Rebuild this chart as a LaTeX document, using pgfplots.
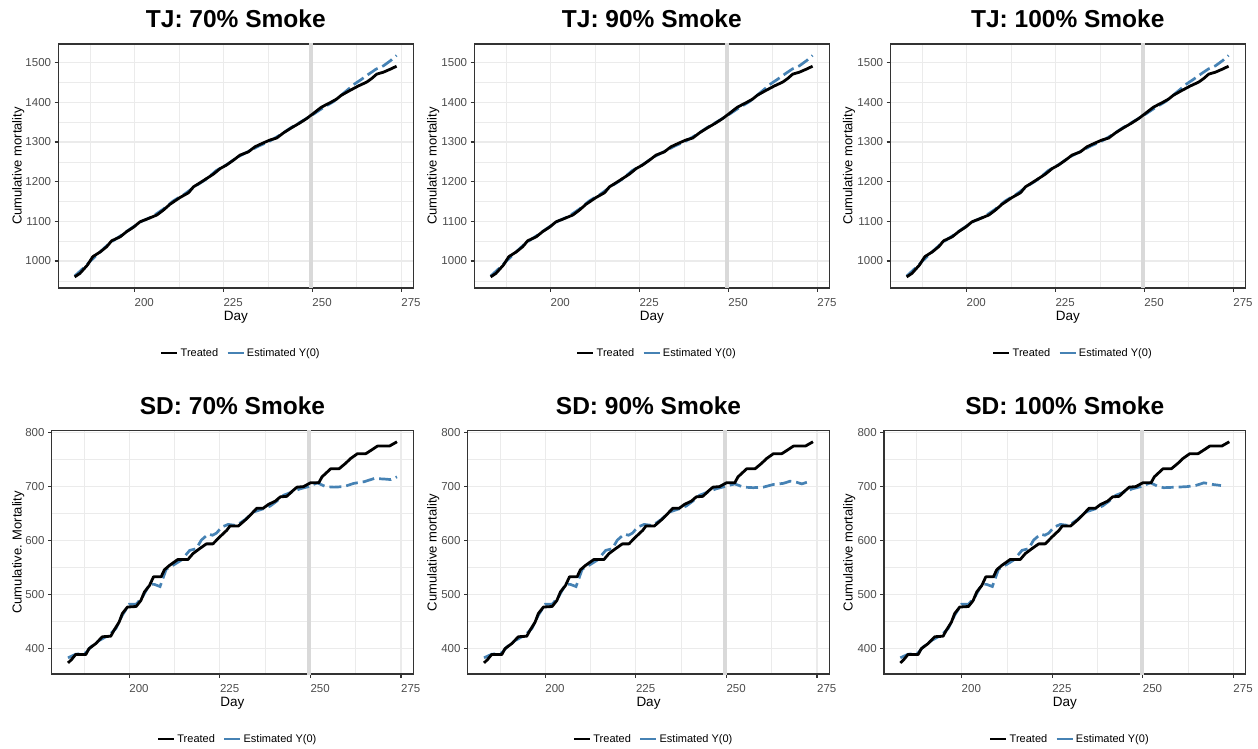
\documentclass[border=0pt]{standalone}
\usepackage{fontspec}
\setmainfont{Liberation Sans}
\usepackage{pgfplots}
\pgfplotsset{compat=1.18}
\definecolor{tickc}{HTML}{4D4D4D}
\definecolor{border}{HTML}{333333}
\definecolor{gridc}{HTML}{EBEBEB}
\definecolor{steel}{HTML}{4682B4}
\definecolor{vline}{HTML}{D9D9D9}
\pgfplotsset{
 gg/.style={
  scale only axis,
  axis line style={border, line width=1.1pt},
  tick style={border, line width=1.1pt},
  tick align=outside,
  major tick length=3.7pt,
  minor tick length=0pt,
  tick pos=left,
  grid=both,
  major grid style={gridc, line width=1.1pt},
  minor grid style={gridc, line width=0.6pt},
  xmin=178.6, xmax=278.4,
  xtick={200,225,250,275},
  minor xtick={187.5,212.5,237.5,262.5},
  ticklabel style={font=\fontsize{11.5}{13}\selectfont, text=tickc},
  xticklabel style={anchor=north west, inner xsep=0pt, yshift=-3pt},
  /pgf/number format/assume math mode=true,
  /pgf/number format/set thousands separator={},
  scaled ticks=false,
  xlabel={Day},
  every axis x label/.style={at={(axis description cs:0.5,0)}, anchor=center, yshift=-29.5pt, font=\fontsize{13.5}{15}\selectfont},
  every axis y label/.style={at={(axis description cs:0,0.5)}, anchor=center, rotate=90, font=\fontsize{13}{15}\selectfont},
  every axis title/.style={at={(axis description cs:0.5,1)}, anchor=center, yshift=25.3pt, font=\fontsize{24.5}{27}\selectfont\bfseries},
  legend columns=2,
  legend image code/.code={\draw[#1, solid] (0pt,0pt) -- (16pt,0pt);},
  legend style={at={(axis description cs:0.5,0)}, anchor=center, xshift=5pt, yshift=-65pt, draw=none, fill=none, font=\fontsize{11}{13}\selectfont, /tikz/every even column/.append style={column sep=6pt}},
 },
 tj/.style={gg, width=355pt, height=244pt, ymin=932, ymax=1547,
  ytick={1000,1100,1200,1300,1400,1500}, minor ytick={950,1050,1150,1250,1350,1450}},
 sd/.style={gg, width=361.6pt, height=243.3pt, ymin=353, ymax=803.5,
  ytick={400,500,600,700,800}, minor ytick={450,550,650,750}},
 treated/.style={black, line width=2.8pt, line join=round},
 est/.style={steel, line width=2.7pt, dash pattern=on 12pt off 5pt},
}
\newcommand{\leg}{\addlegendimage{treated}\addlegendentry{Treated}\addlegendimage{est}\addlegendentry{Estimated Y(0)}}
\newcommand{\tjtreated}{\addplot[treated, forget plot] coordinates {(183.2,960) (184.7,969) (186.8,990) (188.3,1011) (190.4,1023) (192.2,1036) (193.6,1051) (196,1061) (197.8,1074) (199.7,1085) (201.6,1099) (203.9,1107) (206.3,1116) (208.1,1128) (210,1143) (212.8,1160) (215.2,1172) (216.6,1187) (218.4,1197) (220.3,1208) (222.2,1219) (224.1,1233) (225.9,1242) (227.8,1254) (229.7,1267) (232,1275) (233.9,1288) (235.8,1296) (238.1,1305) (240,1310) (241.9,1323) (244.2,1336) (246.5,1348) (248.4,1359) (250.3,1372) (252.6,1388) (255,1399) (256.8,1408) (258.2,1418) (260.6,1430) (262.9,1441) (265.3,1451) (266.7,1460) (268.1,1471) (270,1476) (271.8,1483) (273.7,1491)};}
\newcommand{\tjest}{\addplot[est, forget plot] coordinates {(183.2,962) (186,985) (188,1003) (190,1020) (193,1045) (196,1063) (199,1082) (202,1100) (205,1112) (208,1130) (211,1152) (214,1168) (217,1188) (220,1205) (223,1228) (226,1243) (229,1262) (232,1276) (235,1290) (238,1302) (241,1318) (244,1336) (247,1352) (250,1368) (253,1386) (256,1402) (258,1417) (260,1432) (262,1447) (264,1459) (266,1472) (268,1484) (270,1492) (272,1505) (273.7,1518)};}
\newcommand{\sdtreated}{\addplot[treated, forget plot] coordinates {(183.1,373.5) (184.1,380) (185.2,389) (188,389) (188.9,400) (190.7,409) (192.6,422) (194.9,423) (195.8,434) (197.2,449) (198.1,465) (199.5,477) (201.9,478) (203.2,489) (204.2,505) (205.6,517) (206.7,533) (208.8,533) (209.7,546) (211.1,554) (213.4,565) (216.2,565) (217.6,576) (219.4,585) (221.3,594) (223.1,594) (225,607) (226.9,619) (227.8,627) (230.1,627) (232,638) (233.8,650) (235.2,660) (237,660) (238.4,667) (240.3,673) (241.7,681) (243.5,682) (244.9,691) (246.3,699) (248.1,700) (250,707) (252.3,707) (253.2,718) (255.6,733) (257.9,733) (259.7,743) (261.1,752) (263,761) (265.3,761) (266.7,767) (268.5,775) (271.8,775) (273.9,783)};}
\newcommand{\sdpre}{(183.1,383) (185.2,389.5) (188,392) (189.4,403) (191.7,415) (194.4,425) (196.3,437) (198.1,462) (200,482) (201.9,482) (203.7,496) (205.6,519) (206.9,519) (208.5,515) (209.3,530) (210.2,547) (212.5,556) (214.4,564) (216.7,582) (218.5,585) (219.9,601) (221.8,612) (223,610) (224.1,614) (225.5,625) (227.3,630) (229.6,628) (232,639) (234.3,653) (237,659) (238.9,664) (240.7,673) (242.6,684) (244.9,690) (247.2,696) (249.5,700)}
\newcommand{\vl}{\draw[vline, line width=4pt] (axis cs:249.7,0) -- (axis cs:249.7,2000);}
\begin{document}
\begin{tikzpicture}
\useasboundingbox (0,0) rectangle (1258pt,-749pt);
% Row 1
\begin{axis}[tj, at={(58.3pt,-44pt)}, anchor=north west, title={TJ: 70\% Smoke}, ylabel={Cumulative mortality}, every axis y label/.append style={yshift=40pt}]
\leg \vl \tjest \tjtreated
\end{axis}
\begin{axis}[tj, at={(474.3pt,-44pt)}, anchor=north west, title={TJ: 90\% Smoke}, ylabel={Cumulative mortality}, every axis y label/.append style={yshift=41pt}]
\leg \vl \tjest \tjtreated
\end{axis}
\begin{axis}[tj, at={(890.3pt,-44pt)}, anchor=north west, title={TJ: 100\% Smoke}, ylabel={Cumulative mortality}, every axis y label/.append style={yshift=41.3pt}]
\leg \vl \tjest \tjtreated
\end{axis}
% Row 2
\begin{axis}[sd, at={(51.7pt,-430.7pt)}, anchor=north west, title={SD: 70\% Smoke}, ylabel={Cumulative. Mortality}, every axis y label/.append style={yshift=33.4pt}]
\leg \vl
\addplot[est, forget plot] coordinates {\sdpre (251.9,707) (254.2,700) (256.5,699) (259.3,700) (262,706) (264.8,709) (267.6,715) (270.4,714) (272.2,713) (273.9,718)};
\sdtreated
\end{axis}
\begin{axis}[sd, at={(467.7pt,-430.7pt)}, anchor=north west, title={SD: 90\% Smoke}, ylabel={Cumulative mortality}, every axis y label/.append style={yshift=34.4pt}]
\leg \vl
\addplot[est, forget plot] coordinates {\sdpre (252.3,705) (254.7,699) (257.4,698) (260.2,699) (263,704) (265.7,706) (267.6,710) (269.4,708) (270.8,705) (272.2,708)};
\sdtreated
\end{axis}
\begin{axis}[sd, at={(884pt,-430.7pt)}, anchor=north west, title={SD: 100\% Smoke}, ylabel={Cumulative mortality}, every axis y label/.append style={yshift=34.7pt}]
\leg \vl
\addplot[est, forget plot] coordinates {\sdpre (252.1,707) (254.4,700) (255.8,698) (259.5,699) (262.3,700) (264.6,702) (266.9,707) (269.3,704) (271.6,702)};
\sdtreated
\end{axis}
\end{tikzpicture}
\end{document}
